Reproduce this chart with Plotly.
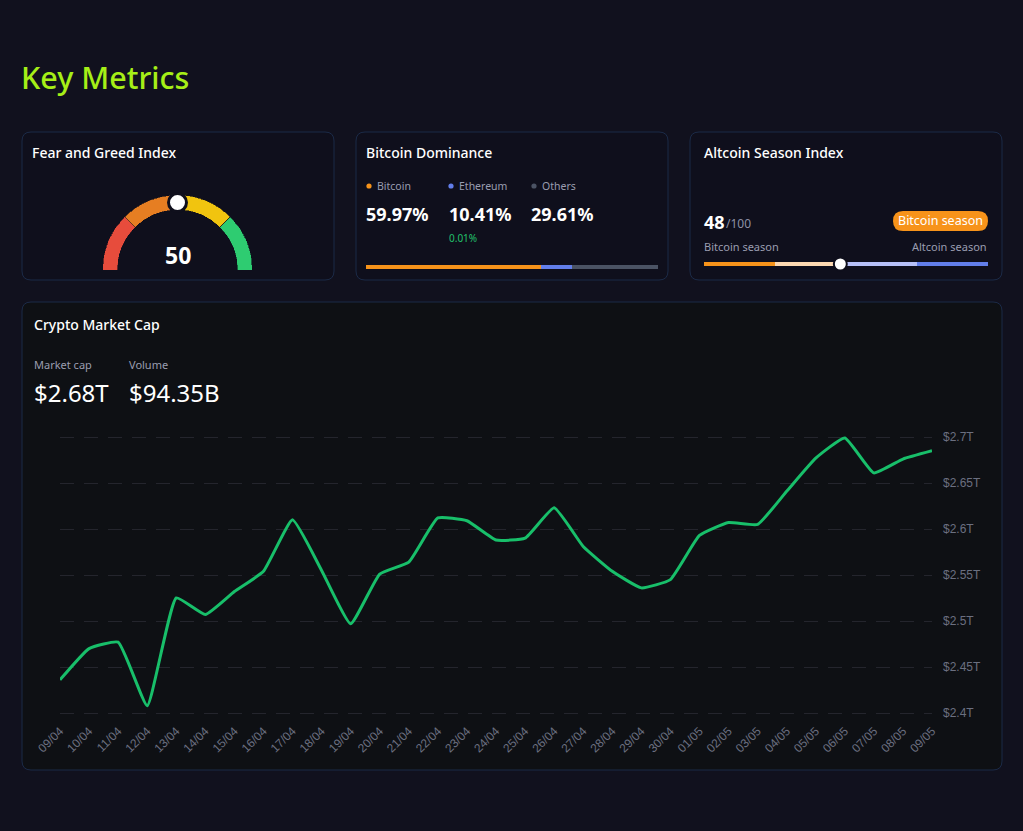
import plotly.graph_objects as go

W, H = 1023, 831

# ---------------- data ----------------
dates = ["09/04", "10/04", "11/04", "12/04", "13/04", "14/04", "15/04", "16/04",
         "17/04", "18/04", "19/04", "20/04", "21/04", "22/04", "23/04", "24/04",
         "25/04", "26/04", "27/04", "28/04", "29/04", "30/04", "01/05", "02/05",
         "03/05", "04/05", "05/05", "06/05", "07/05", "08/05", "09/05"]
market_cap_t = [2.436, 2.470, 2.477, 2.408, 2.525, 2.507, 2.532, 2.554,
                2.610, 2.555, 2.497, 2.551, 2.564, 2.612, 2.609, 2.588,
                2.590, 2.623, 2.581, 2.554, 2.536, 2.545, 2.593, 2.607,
                2.605, 2.641, 2.677, 2.699, 2.661, 2.676, 2.685]
y_tick_vals = [2.4, 2.45, 2.5, 2.55, 2.6, 2.65, 2.7]
y_tick_text = ["$2.4T", "$2.45T", "$2.5T", "$2.55T", "$2.6T", "$2.65T", "$2.7T"]

fear_greed_value = 50
gauge_segments = [25, 25, 25, 25]
gauge_colors = ["#e74c3c", "#e67e22", "#f1c40f", "#2ecc71"]

dominance_names = ["Bitcoin", "Ethereum", "Others"]
dominance_values = [59.97, 10.41, 29.61]
dominance_colors = ["#f7931a", "#627eea", "#4b5364"]
eth_change = "0.01%"

altcoin_index = 48
altcoin_segments = [25, 25, 25, 25]
altcoin_colors = ["#f7931a", "#fdd9b2", "#b6c0f8", "#627eea"]

market_cap_label = "$2.68T"
volume_label = "$94.35B"

# ---------------- helpers ----------------
def X(px):
    return px / W

def Y(py):
    return 1 - py / H

PAGE_BG = "#11111e"
CARD_BG = "#0f0f1c"
CHART_BG = "#0e1014"
BORDER = "#1b2a47"
GRAY = "#9a9db0"
FONT = "Noto Sans"


def rounded_rect(x0, y0, x1, y1, r, fill):
    path = (f"M {X(x0 + r)} {Y(y0)} L {X(x1 - r)} {Y(y0)} "
            f"Q {X(x1)} {Y(y0)} {X(x1)} {Y(y0 + r)} L {X(x1)} {Y(y1 - r)} "
            f"Q {X(x1)} {Y(y1)} {X(x1 - r)} {Y(y1)} L {X(x0 + r)} {Y(y1)} "
            f"Q {X(x0)} {Y(y1)} {X(x0)} {Y(y1 - r)} L {X(x0)} {Y(y0 + r)} "
            f"Q {X(x0)} {Y(y0)} {X(x0 + r)} {Y(y0)} Z")
    return dict(type="path", xref="paper", yref="paper", path=path,
                fillcolor=fill, line=dict(color=BORDER, width=1), layer="below")


annotations = []


def text(px, py, s, size, color="#ffffff", anchor="left", weight="normal", family=FONT):
    annotations.append(dict(x=X(px), y=Y(py), xref="paper", yref="paper", text=s,
                            showarrow=False, xanchor=anchor, yanchor="middle",
                            font=dict(size=size, color=color, family=family, weight=weight),
                            borderpad=0))


fig = go.Figure()

# ---------------- main chart ----------------
fig.add_trace(go.Scatter(
    x=dates, y=market_cap_t, mode="lines",
    line=dict(color="#18bf6a", width=3, shape="spline", smoothing=0.4),
    xaxis="x", yaxis="y", cliponaxis=False, hoverinfo="skip", showlegend=False))

# ---------------- gauge ----------------
theta_c = []
start = 180
for seg in gauge_segments:
    width = seg * 1.8
    theta_c.append(start - width / 2)
    start -= width
fig.add_trace(go.Barpolar(
    r=[1] * len(gauge_segments), theta=theta_c,
    width=[s * 1.8 for s in gauge_segments],
    marker=dict(color=gauge_colors, line=dict(color=CARD_BG, width=0.6)),
    subplot="polar", hoverinfo="skip", showlegend=False))
fig.add_trace(go.Scatterpolar(
    r=[0.5], theta=[180 - fear_greed_value * 1.8], mode="markers",
    marker=dict(size=18, color="#ffffff", line=dict(color=CARD_BG, width=3)),
    subplot="polar", cliponaxis=False, hoverinfo="skip", showlegend=False))

# ---------------- dominance bar ----------------
for name, v, c in zip(dominance_names, dominance_values, dominance_colors):
    fig.add_trace(go.Bar(
        x=[v], y=[0], orientation="h", width=1, marker=dict(color=c, line=dict(width=0)),
        xaxis="x2", yaxis="y2", hoverinfo="skip", showlegend=False, name=name))

# ---------------- altcoin slider ----------------
for v, c in zip(altcoin_segments, altcoin_colors):
    fig.add_trace(go.Bar(
        x=[v], y=[0], orientation="h", width=1, marker=dict(color=c, line=dict(width=0)),
        xaxis="x3", yaxis="y3", hoverinfo="skip", showlegend=False))
fig.add_trace(go.Scatter(
    x=[altcoin_index], y=[0], mode="markers",
    marker=dict(size=13, color="#ffffff", line=dict(color=CARD_BG, width=2)),
    xaxis="x3", yaxis="y3", cliponaxis=False, hoverinfo="skip", showlegend=False))

# ---------------- shapes ----------------
shapes = [
    rounded_rect(22, 132, 334, 280, 9, CARD_BG),
    rounded_rect(356, 132, 668, 280, 9, CARD_BG),
    rounded_rect(690, 132, 1002, 280, 9, CARD_BG),
    rounded_rect(22, 302, 1002, 770, 9, CHART_BG),
]
# badge pill
shapes.append(dict(type="path", xref="paper", yref="paper", fillcolor="#f7931a",
                   line=dict(width=0),
                   path=(f"M {X(903)} {Y(211)} L {X(978)} {Y(211)} "
                         f"Q {X(988)} {Y(211)} {X(988)} {Y(221)} "
                         f"Q {X(988)} {Y(231)} {X(978)} {Y(231)} "
                         f"L {X(903)} {Y(231)} Q {X(893)} {Y(231)} {X(893)} {Y(221)} "
                         f"Q {X(893)} {Y(211)} {X(903)} {Y(211)} Z")))
# legend dots
for dx, c in zip([369, 451, 534], dominance_colors):
    shapes.append(dict(type="circle", xref="paper", yref="paper",
                       x0=X(dx - 2.6), x1=X(dx + 2.6), y0=Y(186 - 2.6), y1=Y(186 + 2.6),
                       fillcolor=c, line=dict(width=0)))

# ---------------- text ----------------
text(19.5, 77, "Key Metrics", 30.5, "#a6ef17", weight=500)
text(31, 153, "Fear and Greed Index", 14, weight=500)
text(365, 153, "Bitcoin Dominance", 14, weight=500)
text(703, 153, "Altcoin Season Index", 14, weight=500)
text(177.5, 254.5, f"<b>{fear_greed_value}</b>", 23, anchor="center")

for tx, name in zip([375.5, 457.5, 540.5], dominance_names):
    text(tx, 186, name, 10.5, GRAY)
for tx, v in zip([365, 447.5, 529.5], dominance_values):
    text(tx, 213.5, f"<b>{v:.2f}%</b>", 18)
text(447.5, 238, eth_change, 10, "#22c06b")

text(703, 222, f"<b>{altcoin_index}</b>", 18)
text(724.5, 223.5, "/100", 12, "#8e91a6")
text(940.5, 221, "Bitcoin season", 12.5, "#ffffff", anchor="center")
text(703, 246, "Bitcoin season", 11, GRAY)
text(988, 246, "Altcoin season", 11, GRAY, anchor="right")

text(33, 324, "Crypto Market Cap", 14, weight=500)
text(33, 365, "Market cap", 11, GRAY)
text(128, 365, "Volume", 11, GRAY)
text(32.5, 392, market_cap_label, 24)
text(127.5, 392, volume_label, 24)

axis_font = dict(family="Liberation Sans, Arial", size=12, color="#6b6f80")

# y range padded slightly so edge gridlines are drawn; domain adjusted to keep pixel mapping
pad_val = 0.002
px_per_val = (713 - 437) / 0.3
pad_px = pad_val * px_per_val

fig.update_layout(
    width=W, height=H, margin=dict(l=0, r=0, t=0, b=0, pad=0, autoexpand=False),
    paper_bgcolor=PAGE_BG, plot_bgcolor="rgba(0,0,0,0)",
    showlegend=False, barmode="stack", hovermode=False,
    shapes=shapes, annotations=annotations,
    xaxis=dict(domain=[X(60), X(932)], range=[0, 30], type="category",
               showgrid=False, zeroline=False, showline=False, ticks="",
               tickangle=-45, tickfont=axis_font, anchor="y", ticklabelstandoff=6,
               automargin=False),
    yaxis=dict(domain=[Y(713 + pad_px), Y(437 - pad_px)],
               range=[2.4 - pad_val, 2.7 + pad_val], side="right",
               tickvals=y_tick_vals, ticktext=y_tick_text, tickfont=axis_font,
               showgrid=True, gridcolor="#24252d", gridwidth=1, griddash="14px,10px",
               zeroline=False, showline=False, ticks="", anchor="x", ticklabelstandoff=10,
               automargin=False),
    xaxis2=dict(domain=[X(366), X(658)], range=[0, 100], visible=False, anchor="y2",
                automargin=False),
    yaxis2=dict(domain=[Y(269), Y(265)], range=[-0.5, 0.5], visible=False, anchor="x2",
                automargin=False),
    xaxis3=dict(domain=[X(704), X(988)], range=[0, 100], visible=False, anchor="y3",
                automargin=False),
    yaxis3=dict(domain=[Y(266), Y(262)], range=[-0.5, 0.5], visible=False, anchor="x3",
                automargin=False),
    polar=dict(domain=dict(x=[X(102.5), X(252.5)], y=[Y(270), Y(195)]),
               sector=[0, 180], hole=0.8, bgcolor="rgba(0,0,0,0)",
               radialaxis=dict(range=[0, 1], visible=False),
               angularaxis=dict(visible=False, direction="counterclockwise", rotation=0)),
)

fig.write_html("out.html")
